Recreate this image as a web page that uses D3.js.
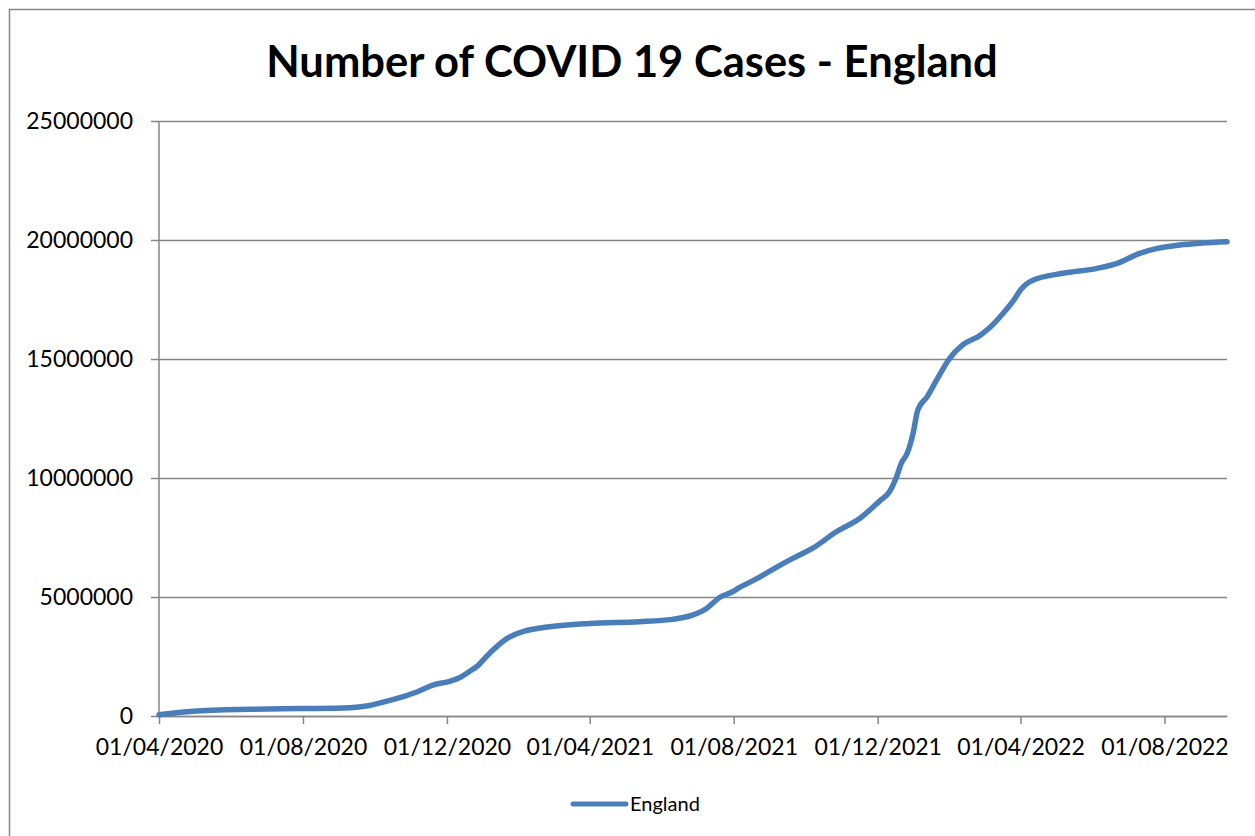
<!DOCTYPE html>
<html>
<head>
<meta charset="utf-8">
<script src="https://cdn.jsdelivr.net/npm/d3@7"></script>
<style>
    body { margin: 0; background: #ffffff; }
    text { font-family: Lato, "Open Sans", sans-serif; fill: #000000; }
</style>
</head>
<body>
<div id="chart"></div>
<script>
// data
let dates = [
    "2020-04-01", "2020-04-30", "2020-06-17", "2020-07-29", "2020-09-10",
    "2020-09-24", "2020-10-08", "2020-10-22", "2020-11-06", "2020-11-19",
    "2020-12-04", "2020-12-12", "2020-12-21", "2020-12-26", "2021-01-06",
    "2021-01-21", "2021-02-03", "2021-02-26", "2021-04-01", "2021-05-13",
    "2021-06-10", "2021-06-27", "2021-07-09", "2021-07-20", "2021-07-31",
    "2021-08-06", "2021-08-21", "2021-09-01", "2021-09-20", "2021-10-07",
    "2021-10-27", "2021-11-16", "2021-12-03", "2021-12-11", "2021-12-17",
    "2021-12-21", "2021-12-26", "2021-12-31", "2022-01-04", "2022-01-12",
    "2022-01-20", "2022-01-31", "2022-02-11", "2022-02-26", "2022-03-06",
    "2022-03-17", "2022-03-26", "2022-04-01", "2022-04-11", "2022-05-07",
    "2022-06-05", "2022-06-22", "2022-07-11", "2022-07-26", "2022-08-14",
    "2022-09-23"
];
let england = [
    50000, 200000, 280000, 310000, 350000,
    420000, 580000, 770000, 1020000, 1300000,
    1470000, 1620000, 1900000, 2070000, 2630000,
    3260000, 3540000, 3750000, 3890000, 3960000,
    4060000, 4240000, 4520000, 4980000, 5220000,
    5400000, 5780000, 6100000, 6620000, 7050000,
    7740000, 8310000, 9050000, 9420000, 10050000,
    10620000, 11040000, 11880000, 12860000, 13420000,
    14120000, 15030000, 15590000, 16000000, 16320000,
    16900000, 17450000, 17900000, 18300000, 18600000,
    18810000, 19020000, 19440000, 19650000, 19790000,
    19930000
];
let yTicks = [0, 5000000, 10000000, 15000000, 20000000, 25000000];
let xTicks = [
    "2020-04-01", "2020-08-01", "2020-12-01", "2021-04-01",
    "2021-08-01", "2021-12-01", "2022-04-01", "2022-08-01"
];
let title = "Number of COVID 19 Cases - England";
let seriesName = "England";

let parseDate = d3.timeParse("%Y-%m-%d");
let formatDate = d3.timeFormat("%d/%m/%Y");

let width = 1255, height = 836;
let plotLeft = 159, plotRight = 1227, plotTop = 121, plotBottom = 716;
let gridColor = "#868686";
let lineColor = "#4a7ebb";

let points = dates.map(function(d, i) { return [parseDate(d), england[i]]; });

let svg = d3.select("#chart").append("svg")
    .attr("width", width)
    .attr("height", height);

// chart area border (runs off the right and bottom of the picture)
svg.append("rect")
    .attr("x", 9.5).attr("y", 9.5)
    .attr("width", width + 40).attr("height", height + 40)
    .attr("fill", "none")
    .attr("stroke", gridColor)
    .attr("stroke-width", 1.5);

svg.append("text")
    .attr("x", 632).attr("y", 77)
    .attr("text-anchor", "middle")
    .attr("font-size", "43.5px")
    .attr("font-weight", "bold")
    .text(title);

// scales
let x = d3.scaleTime()
    .domain([parseDate(dates[0]), parseDate(dates[dates.length - 1])])
    .range([plotLeft, plotRight]);
let y = d3.scaleLinear()
    .domain([0, 25000000])
    .range([plotBottom, plotTop]);

// Y axis with gridlines
let yAxis = d3.axisLeft(y)
    .tickValues(yTicks)
    .tickFormat(d3.format("d"))
    .tickSize(-(plotRight - plotLeft))
    .tickPadding(26);
let gy = svg.append("g")
    .attr("transform", "translate(" + plotLeft + ",0)")
    .call(yAxis);
gy.select(".domain").remove();
gy.selectAll(".tick line")
    .attr("stroke", gridColor)
    .attr("stroke-width", 1.5)
    .attr("x1", -8);
gy.selectAll(".tick text")
    .attr("font-size", "23px")
    .attr("font-family", "Lato, sans-serif")
    .attr("fill", "#000");

// vertical axis line
svg.append("line")
    .attr("x1", plotLeft).attr("x2", plotLeft)
    .attr("y1", plotTop).attr("y2", plotBottom)
    .attr("stroke", gridColor)
    .attr("stroke-width", 1.5);

// X axis
let xAxis = d3.axisBottom(x)
    .tickValues(xTicks.map(parseDate))
    .tickFormat(formatDate)
    .tickSize(8)
    .tickSizeOuter(0)
    .tickPadding(15);
let gx = svg.append("g")
    .attr("transform", "translate(0," + plotBottom + ")")
    .call(xAxis);
gx.select(".domain").attr("stroke", gridColor).attr("stroke-width", 1.5);
gx.selectAll(".tick line").attr("stroke", gridColor).attr("stroke-width", 1.5);
gx.selectAll(".tick text")
    .attr("font-size", "23px")
    .attr("font-family", "Lato, sans-serif")
    .attr("fill", "#000");

// the series
let valueLine = d3.line()
    .x(function(d) { return x(d[0]); })
    .y(function(d) { return y(d[1]); })
    .curve(d3.curveMonotoneX);
svg.append("path")
    .datum(points)
    .attr("fill", "none")
    .attr("stroke", lineColor)
    .attr("stroke-width", 5.5)
    .attr("stroke-linejoin", "round")
    .attr("stroke-linecap", "round")
    .attr("d", valueLine);

// legend
let legend = svg.append("g").attr("transform", "translate(573,804)");
legend.append("line")
    .attr("x1", 0).attr("x2", 53)
    .attr("stroke", lineColor)
    .attr("stroke-width", 5)
    .attr("stroke-linecap", "round");
legend.append("text")
    .attr("x", 57).attr("y", 7)
    .attr("font-size", "20px")
    .text(seriesName);
</script>
</body>
</html>
